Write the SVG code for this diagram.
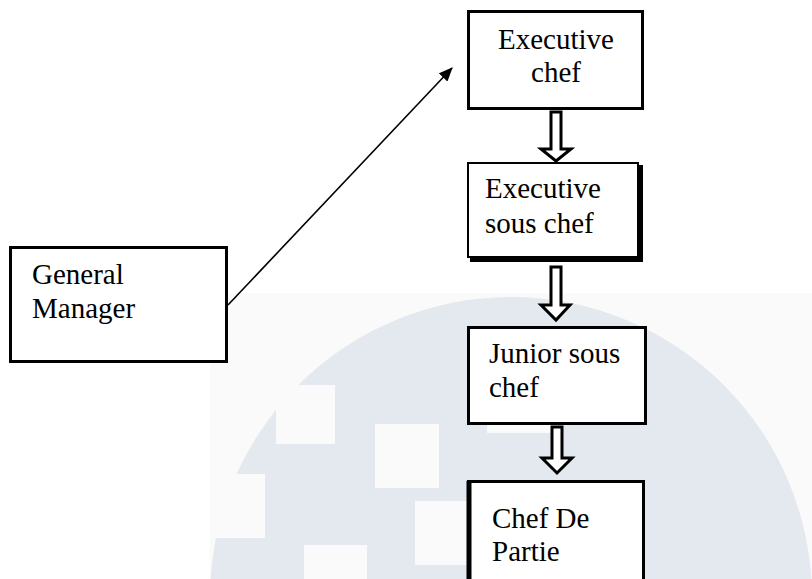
<svg xmlns="http://www.w3.org/2000/svg" width="812" height="579" viewBox="0 0 812 579">
  <style>
    .box { fill: #ffffff; stroke: #000000; stroke-width: 3; }
    .lbl { font-family: 'Liberation Serif', 'DejaVu Serif', serif; font-size: 29px; fill: #000000; }
    .blk { fill: #ffffff; stroke: #000000; stroke-width: 3; stroke-linejoin: miter; }
    .wm { fill: #fafafa; }
  </style>
  <defs>
    <marker id="ah" markerWidth="14" markerHeight="12" refX="13" refY="6" orient="auto" markerUnits="userSpaceOnUse">
      <path d="M0,0 L14,6 L0,12 Z" fill="#000000"/>
    </marker>
    <clipPath id="wmclip"><rect x="210" y="293" width="602" height="286"/></clipPath>
  </defs>
  <rect width="812" height="579" fill="#ffffff"/>
  <g id="watermark" clip-path="url(#wmclip)">
    <rect class="wm" x="210" y="293" width="602" height="286"/>
    <circle cx="511" cy="598" r="301" fill="#e4e8ef"/>
    <rect class="wm" x="276" y="385" width="59" height="59"/>
    <rect class="wm" x="200" y="474" width="65" height="64"/>
    <rect class="wm" x="375" y="424" width="64" height="64"/>
    <rect class="wm" x="415" y="501" width="64" height="64"/>
    <rect class="wm" x="304" y="545" width="63" height="64"/>
    <rect class="wm" x="487" y="369" width="64" height="64"/>
  </g>
  <g id="connectors">
    <line x1="228" y1="305" x2="452" y2="68" stroke="#000000" stroke-width="1.6" marker-end="url(#ah)"/>
    <path class="blk" d="M551,112 L561,112 L561,149 L571,149 L556,161 L541,149 L551,149 Z"/>
    <path class="blk" d="M551,267 L561,267 L561,305 L570,305 L556,320 L541,305 L551,305 Z"/>
    <path class="blk" d="M552,427 L562,427 L562,458 L572,458 L557,473 L542,458 L552,458 Z"/>
  </g>
  <g id="general-manager">
    <rect class="box" x="10.5" y="247.5" width="216" height="114"/>
    <text class="lbl" x="32" y="284">General</text>
    <text class="lbl" x="32" y="318">Manager</text>
  </g>
  <g id="executive-chef">
    <rect class="box" x="468.5" y="11.5" width="174" height="97"/>
    <text class="lbl" x="556" y="49" text-anchor="middle">Executive</text>
    <text class="lbl" x="556" y="82" text-anchor="middle">chef</text>
  </g>
  <g id="executive-sous-chef">
    <path d="M641,165 L641,260 L470,260" fill="none" stroke="#000000" stroke-width="4"/>
    <rect x="468" y="163" width="170" height="94" fill="#ffffff" stroke="#000000" stroke-width="2"/>
    <text class="lbl" x="485" y="198">Executive</text>
    <text class="lbl" x="485" y="233">sous chef</text>
  </g>
  <g id="junior-sous-chef">
    <rect class="box" x="468.5" y="327.5" width="177" height="96"/>
    <text class="lbl" x="489" y="363">Junior sous</text>
    <text class="lbl" x="489" y="397">chef</text>
  </g>
  <g id="chef-de-partie">
    <rect class="box" x="468.5" y="481.5" width="175" height="120"/>
    <line x1="469" y1="481" x2="469" y2="579" stroke="#000000" stroke-width="5"/>
    <text class="lbl" x="492" y="528">Chef De</text>
    <text class="lbl" x="492" y="561">Partie</text>
  </g>
</svg>
